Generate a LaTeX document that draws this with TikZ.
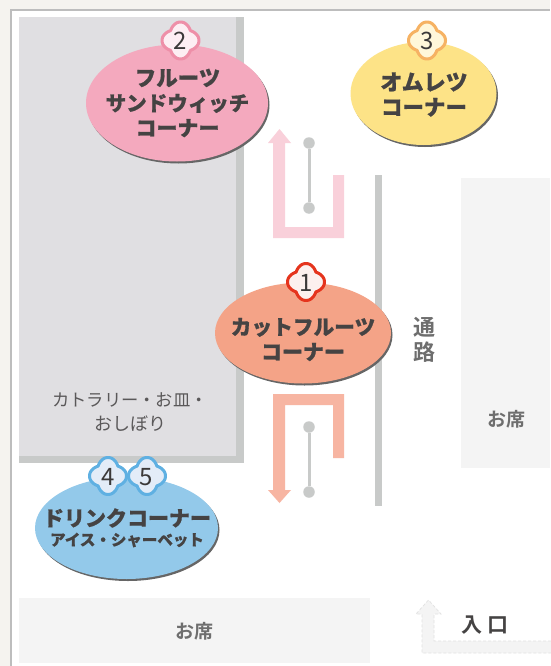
\documentclass[tikz,border=0pt]{standalone}
\usepackage{fontspec}
\usetikzlibrary{shapes.geometric,shadows}
\newfontfamily\jpreg{Noto Sans CJK JP}
\newfontfamily\jpblack[RawFeature={embolden=0.8}]{Noto Sans CJK JP Black}
\newfontfamily\jpbold{Noto Sans CJK JP Bold}
\definecolor{paper}{HTML}{F5F3EF}
\definecolor{frameline}{HTML}{BDBDBD}
\definecolor{room}{HTML}{E0DFE2}
\definecolor{wallc}{HTML}{C8CAC9}
\definecolor{seat}{HTML}{F4F4F4}
\definecolor{ink}{HTML}{454343}
\definecolor{softink}{HTML}{5A5859}
\definecolor{seatink}{HTML}{6E6E6E}
\definecolor{shade}{HTML}{666666}
\definecolor{dashline}{HTML}{E2E2E2}
\definecolor{pinkc}{HTML}{F4A9BE}\definecolor{pinkl}{HTML}{EE8FA8}\definecolor{pinkf}{HTML}{FDEEF3}
\definecolor{yelc}{HTML}{FDE387}\definecolor{yell}{HTML}{F6B263}\definecolor{yelf}{HTML}{FFF7DA}
\definecolor{orac}{HTML}{F4A387}\definecolor{oral}{HTML}{E5341D}\definecolor{oraf}{HTML}{FCF0EE}
\definecolor{bluc}{HTML}{93C9EA}\definecolor{blul}{HTML}{5FB0E2}\definecolor{bluf}{HTML}{E3ECF8}
\definecolor{arrowpink}{HTML}{F9D0DA}
\definecolor{arrowsalmon}{HTML}{F7B5A2}
\newcommand{\fz}[1]{\fontsize{#1}{25}\selectfont}
\tikzset{
  x=1pt,y=-1pt,
  spot/.style={ellipse,inner sep=0pt,outer sep=0pt,
    general shadow={shadow xshift=1.5pt,shadow yshift=-2pt,fill=shade}},
  title/.style={text=ink,inner sep=0pt,align=center,font=\jpblack\fontsize{21}{25}\selectfont},
  subtitle/.style={text=ink,inner sep=0pt,font=\jpblack\fontsize{15.5}{18}\selectfont},
  num/.style={text=ink!85!black,inner sep=0pt,font=\jpreg\fontsize{24}{24}\selectfont},
  seatlabel/.style={text=seatink,inner sep=0pt,font=\jpbold\fontsize{19}{19}\selectfont},
  aisle/.style={text=seatink,inner sep=0pt,font=\jpbold\fontsize{22}{22}\selectfont},
  cutlery/.style={text=softink,inner sep=0pt,align=center,font=\jpreg\fontsize{17.3}{24}\selectfont},
  pole/.style={draw=wallc,line width=3pt},
  knob/.style={circle,fill=wallc,inner sep=0pt,minimum size=11.5pt},
  lobe/.style={line width=3pt,line join=round},
}
\pgfmathdeclarefunction{lobeR}{1}{%
  \pgfmathparse{7*cos(mod(#1+45,90)-45)+sqrt(132.25-49*sin(mod(#1+45,90)-45)*sin(mod(#1+45,90)-45))+0.7*cos(4*#1)-0.7}}
\newcommand{\quatrefoil}[3]{% centre, stroke, fill
  \draw[lobe,draw=#2,fill=#3,shift={#1}] plot[domain=0:355,samples=72,variable=\t]
    ({lobeR(\t)*cos(\t)},{lobeR(\t)*sin(\t)}) -- cycle;}
\begin{document}
\begin{tikzpicture}
\useasboundingbox (0,0) rectangle (550,666);
\fill[paper] (0,0) rectangle (550,666);
\fill[white] (11,10) rectangle (550,666);
\draw[frameline,line width=1.3pt] (11,666) -- (11,10) -- (550,10);
% service room
\fill[wallc] (19,17) rectangle (244,463);
\fill[room] (19,17) rectangle (236,456);
% seats
\fill[seat] (461,178) rectangle (550,468);
\fill[seat] (19,598) rectangle (370,663);
% aisle wall
\fill[wallc] (375,175) rectangle (382,506);
% flow arrows
\fill[arrowpink] (344,175) -- (333,175) -- (333,227) -- (285,227) -- (285,143) -- (291,143) -- (279.5,129) -- (268,143) -- (273,143) -- (273,238) -- (344,238) -- cycle;
\fill[arrowsalmon] (344,458) -- (333,458) -- (333,405) -- (285,405) -- (285,490) -- (291,490) -- (279.5,503) -- (268,490) -- (273,490) -- (273,394) -- (344,394) -- cycle;
% entrance arrow
\draw[dashline,fill=seat,line width=.7pt,dash pattern=on 3pt off 2pt] (551,641) -- (434,641) -- (434,614) -- (441,614) -- (428.5,600) -- (416,614) -- (422,614) -- (422,653) -- (551,653);
% poles
\node[knob] (p1) at (309,143) {};
\node[knob] (p2) at (309,208) {};
\draw[pole] (p1) -- (p2);
\node[knob] (p3) at (309,427) {};
\node[knob] (p4) at (309,492) {};
\draw[pole] (p3) -- (p4);
% corners
\node[spot,fill=pinkc,minimum width=182pt,minimum height=117pt] (pinkspot) at (177,103) {};
\node[spot,fill=yelc,minimum width=146pt,minimum height=103pt] (yelspot) at (423.5,93.5) {};
\node[spot,fill=orac,minimum width=176pt,minimum height=101pt] (oraspot) at (303,333) {};
\node[spot,fill=bluc,minimum width=183pt,minimum height=102pt] (bluspot) at (126.5,528) {};
\quatrefoil{(180.5,40.5)}{pinkl}{pinkf}
\quatrefoil{(427,40.5)}{yell}{yelf}
\quatrefoil{(306,282)}{oral}{oraf}
\quatrefoil{(108,476)}{blul}{bluf}
\quatrefoil{(147,476)}{blul}{bluf}
\node[num] (n2) at (180.5,41) {2};
\node[num] (n3) at (427,41) {3};
\node[num] (n1) at (306,283) {1};
\node[num] (n4) at (108,477) {4};
\node[num] (n5) at (146.5,477) {5};
\node[title] (t2) at (177.5,103) {\fz{21.5}フルーツ\\\fz{20.5}サンドウィッチ\\\fz{21}コーナー};
\node[title] (t3) at (424,94.5) {\fz{22}オムレツ\\\fz{21.5}コーナー};
\node[title] (t1) at (303,339.5) {\fz{20.7}カットフルーツ\\\fz{21}コーナー};
\node[title] (t4) at (127,518) {ドリンクコーナー};
\node[subtitle] (t5) at (127,540) {アイス・シャーベット};
% labels
\node[cutlery] (cutlerylabel) at (130,412) {カトラリー・お皿・\\\fontsize{18}{24}\selectfont おしぼり};
\node[aisle] (a1) at (424,327) {通};
\node[aisle] (a2) at (424,352) {路};
\node[seatlabel] (s1) at (506,419) {お席};
\node[seatlabel] (s2) at (194,631) {お席};
\node[text=ink,inner sep=0pt,font=\jpbold\fontsize{21}{21}\selectfont] (entry) at (485,625) {入\hspace{5pt}口};
\end{tikzpicture}
\end{document}
